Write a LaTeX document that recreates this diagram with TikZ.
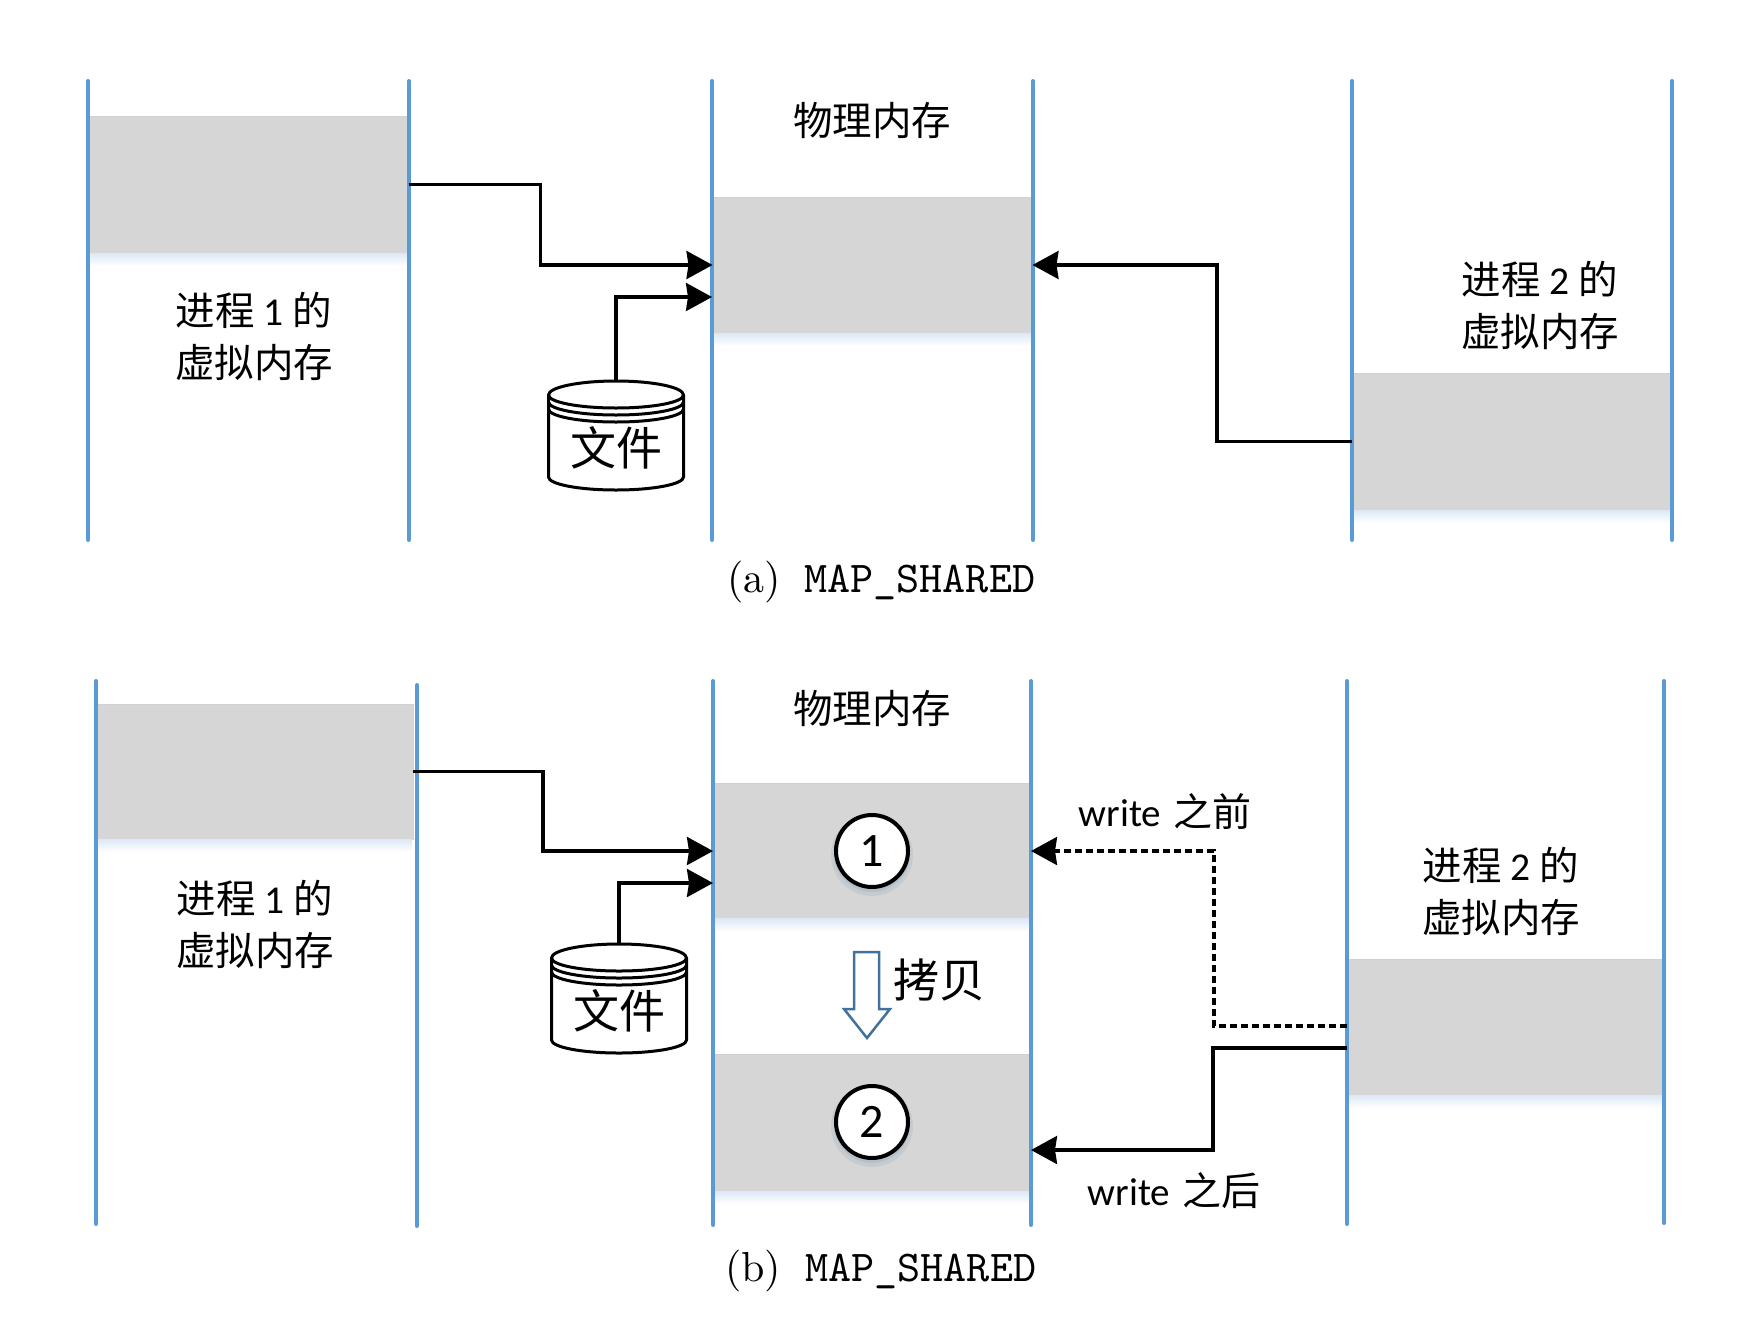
\documentclass[tikz,border=0pt]{standalone}
\usepackage{fontspec}
\newfontfamily\cjk{Noto Sans CJK SC}
\newfontfamily\carl{Carlito}
\newfontfamily\capfont{lmroman10-regular}[Extension=.otf]
\newfontfamily\captt{lmmono10-regular}[Extension=.otf]
\usetikzlibrary{arrows.meta,calc}
\definecolor{lineblue}{HTML}{5B9BD5}
\definecolor{regiongray}{HTML}{D6D6D6}
\definecolor{paleblue}{HTML}{DCE8F5}
\definecolor{hollowblue}{HTML}{41719C}
\tikzset{
  x=1pt,y=-1pt,
  vline/.style={draw=lineblue,line width=4pt,line cap=round},
  region/.style={draw=black!18,line width=1pt,fill=regiongray,inner sep=0pt,outer sep=0pt,minimum width=#1},
  region/.default=320pt,
  conn/.style={draw=black,line width=3.2pt,-{Stealth[length=26pt,width=28pt,inset=2pt]}},
  dconn/.style={conn,dash pattern=on 7pt off 4pt},
  cjklabel/.style={font=\fontsize{39.5}{52}\selectfont\cjk,align=center,inner sep=0pt},
  wlabel/.style={font=\fontsize{39}{47}\selectfont,inner sep=0pt},
  filelabel/.style={font=\fontsize{46}{50}\selectfont\cjk,inner sep=0pt},
  captionlabel/.style={font=\fontsize{42}{50}\selectfont\capfont,inner sep=0pt,anchor=base west},
  captionmono/.style={font=\fontsize{44}{50}\selectfont\captt,inner sep=0pt,anchor=base west},
  filebox/.style={minimum width=135pt,minimum height=109pt,inner sep=0pt,outer sep=0pt},
  marker/.style={circle,draw=black,line width=4pt,fill=white,minimum size=72pt,inner sep=0pt,font=\fontsize{48}{50}\selectfont\carl},
}
\newcommand{\regionshadow}[1]{\shade[top color=paleblue,bottom color=white] ($(#1.south west)+(1,0)$) rectangle ($(#1.south east)+(-1,13)$);}
\newcommand{\cylinder}[1]{%
  \draw[black,line width=3pt,fill=white]
    ($(#1.north west)+(0,14)$) arc[start angle=180,end angle=0,x radius=67.5pt,y radius=14pt]
    -- ($(#1.south east)+(0,-13)$) arc[start angle=360,end angle=180,x radius=67.5pt,y radius=13pt] -- cycle;
  \draw[black,line width=3pt]
    ($(#1.north west)+(0,14)$) arc[start angle=180,end angle=360,x radius=67.5pt,y radius=13pt]
    ($(#1.north west)+(0,21)$) arc[start angle=180,end angle=360,x radius=67.5pt,y radius=13pt]
    ($(#1.north west)+(0,28)$) arc[start angle=180,end angle=360,x radius=67.5pt,y radius=13pt];
}
\begin{document}
\begin{tikzpicture}
\useasboundingbox (0,0) rectangle (1742,1325);

% ---------- panel (a) ----------
\node[region,minimum height=137pt] (a1) at (248.5,184.5) {};
\node[region,minimum height=136pt] (am) at (872.5,265) {};
\node[region,minimum height=137pt] (a2) at (1512,441.5) {};
\regionshadow{a1}\regionshadow{am}\regionshadow{a2}
\foreach \xx in {88,409,712,1033,1352,1672}
  \draw[vline] (\xx,81) -- (\xx,540);

\node[filebox] (afile) at (616,435.5) {};
\cylinder{afile}
\node[filelabel] (afilelabel) at (616,448) {文件};

\coordinate (ain) at (712,297);
\draw[conn] (a1.east) -- ++(132,0) |- (am.west);
\draw[conn] (afile.north) |- (ain);
\draw[conn] (a2.west) -- ++(-135,0) |- (am.east);

\node[cjklabel] (amem) at (872,121) {物理内存};
\node[cjklabel] (ap1) at (254,336) {进程 {\carl 1} 的\\虚拟内存};
\node[cjklabel] (ap2) at (1540,305) {进程 {\carl 2} 的\\虚拟内存};
\node[captionlabel] (acap) at (727,592) {(a)};
\node[captionmono] (acapm) at (804,592) {MAP\_SHARED};

% ---------- panel (b) ----------
\node[region=317pt,minimum height=135pt] (b1) at (254.5,771.5) {};
\node[region=318pt,minimum height=135pt] (bm1) at (872,851) {};
\node[region=318pt,minimum height=137pt] (bm2) at (872,1122.5) {};
\node[region=317pt,minimum height=136pt] (b2) at (1505.5,1027) {};
\regionshadow{b1}\regionshadow{bm1}\regionshadow{bm2}\regionshadow{b2}
\draw[vline] (96,681) -- (96,1224);
\draw[vline] (417,685) -- (417,1226);
\draw[vline] (713,681) -- (713,1225);
\draw[vline] (1031,681) -- (1031,1225);
\draw[vline] (1347,681) -- (1347,1224);
\draw[vline] (1664,681) -- (1664,1223);

\node[filebox] (bfile) at (619,998.5) {};
\cylinder{bfile}
\node[filelabel] (bfilelabel) at (619,1011) {文件};

\coordinate (bin) at (713,883);
\coordinate (bdash) at (1347,1026);
\coordinate (bsolid) at (1347,1048);
\coordinate (bafter) at (1031,1150);
\draw[conn] (b1.east) -- ++(130,0) |- (bm1.west);
\draw[conn] (bfile.north) |- (bin);
\draw[dconn] (bdash) -- ++(-133,0) |- (bm1.east);
\draw[conn] (bsolid) -- ++(-134,0) |- (bafter);

\fill[hollowblue,opacity=.10] (872,855) circle[radius=41pt];
\fill[hollowblue,opacity=.12] (872,854) circle[radius=38pt];
\fill[hollowblue,opacity=.10] (872,1126) circle[radius=41pt];
\fill[hollowblue,opacity=.12] (872,1125) circle[radius=38pt];
\node[marker] (m1) at (872,851) {1};
\node[marker] (m2) at (872,1122) {2};

\draw[hollowblue,line width=2.5pt,fill=white,line join=miter]
  (854,952) -- (879,952) -- (879,1009) -- (890,1009) -- (867,1038) -- (844,1009) -- (854,1009) -- cycle;

\node[cjklabel] (bmem) at (872,709) {物理内存};
\node[cjklabel] (bp1) at (255,924) {进程 {\carl 1} 的\\虚拟内存};
\node[cjklabel] (bp2) at (1501,891) {进程 {\carl 2} 的\\虚拟内存};
\node[filelabel] (copy) at (939,980) {拷贝};
\node[wlabel] (before) at (1165,812) {{\carl write} {\cjk 之前}};
\node[wlabel] (after) at (1174,1191) {{\carl write} {\cjk 之后}};
\node[captionlabel] (bcap) at (725,1281) {(b)};
\node[captionmono] (bcapm) at (805,1281) {MAP\_SHARED};
\end{tikzpicture}
\end{document}
